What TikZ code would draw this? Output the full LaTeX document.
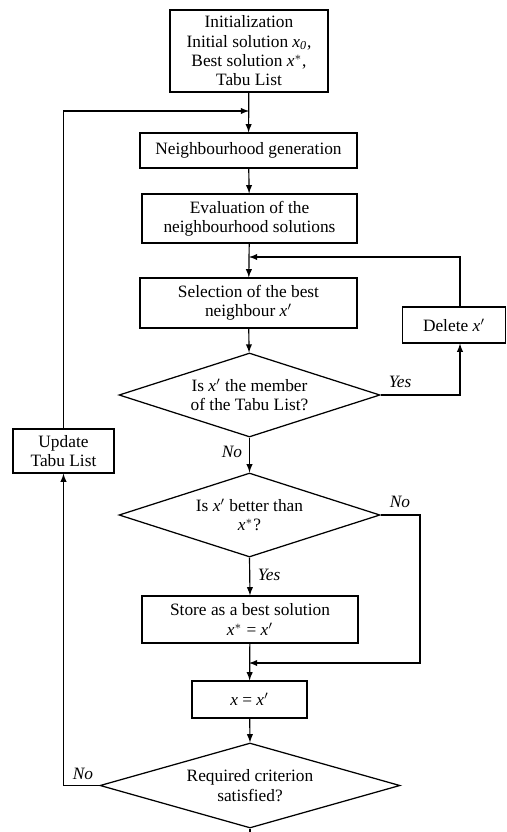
\documentclass[tikz,border=0pt]{standalone}
\usepackage{fontspec}
\setmainfont{Liberation Serif}
\usepackage{tikz}
\usetikzlibrary{shapes.geometric,% diamond nodes for the tests
arrows}%                            latex arrow tip
\tikzset{every node/.style={font=\fontsize{10.4}{11.6}\selectfont},
  procbox/.style={draw, line width=0.75pt, align=center, inner sep=1pt},
  decision/.style={diamond, draw, line width=0.75pt, align=center, inner sep=0pt, aspect=3.2},
  flow/.style={line width=0.7pt, -latex},
  answer/.style={font=\fontsize{10.4}{11.6}\selectfont\itshape}}
\newcommand{\xp}{\textit{x}$^{\prime}$}
\newcommand{\xs}{\textit{x}$^{*}$}

\begin{document}
\begin{tikzpicture}[x=0.6pt, y=-0.6pt]
  \useasboundingbox (0,0) rectangle (506,832);
  % boxes and tests
  \node[procbox, minimum width=94.8pt, minimum height=49.2pt] (init) at (249,51)
    {Initialization\\Initial solution \textit{x\textsubscript{0}},\\Best solution \xs,\\Tabu List};
  \node[procbox, minimum width=130.2pt, minimum height=21pt] (neigh) at (248.5,150.5) {Neighbourhood generation};
  \node[procbox, minimum width=129pt, minimum height=29.4pt] (eval) at (249.5,218.5) {Evaluation of the\\neighbourhood solutions};
  \node[procbox, minimum width=130.2pt, minimum height=30pt] (sel) at (248.5,303) {Selection of the best\\neighbour \xp};
  \node[procbox, minimum width=61.8pt, minimum height=21.6pt] (del) at (454,325) {Delete \xp};
  \node[decision, minimum width=156.6pt, minimum height=50.4pt] (tabu) at (249.5,395) {Is \xp{} the member\\of the Tabu List?};
  \node[procbox, minimum width=60.6pt, minimum height=26.4pt] (upd) at (63.5,451) {Update\\Tabu List};
  \node[decision, minimum width=156.6pt, minimum height=50.4pt] (better) at (249.5,515) {Is \xp{} better than\\\xs?};
  \node[procbox, minimum width=129.6pt, minimum height=28.2pt] (store) at (250,619.5) {Store as a best solution\\\xs{} = \xp};
  \node[procbox, minimum width=69pt, minimum height=22.2pt] (move) at (249.5,699.5) {\textit{x} = \xp};
  \node[decision, aspect=3.5, minimum width=180pt, minimum height=51pt] (stop) at (250,785.5) {Required criterion\\satisfied?};
  % junctions on the main line
  \coordinate (joinA) at (249,111);
  \coordinate (joinB) at (249,257);
  \coordinate (joinC) at (249,663);
  \coordinate (yesturn) at (460,395);
  \coordinate (noturn) at (420,515);
  \coordinate (exit) at (250,832);
  % connectors
  \draw[flow] (init) -- (neigh);
  \draw[flow] (upd.north) |- (joinA);
  \draw[flow] (neigh) -- (eval);
  \draw[flow] (eval) -- (sel);
  \draw[flow] (del.north -| yesturn) |- (joinB);
  \draw[flow] (sel) -- (tabu);
  \draw[flow] (tabu.east) -- (yesturn) -- (yesturn |- del.south);
  \draw[flow] (tabu.south) -- (better.north);
  \draw[flow] (better.east) -- (noturn) |- (joinC);
  \draw[flow] (better.south) -- (store.north);
  \draw[flow] (store) -- (move);
  \draw[flow] (move) -- (stop.north);
  \draw[flow] (stop.west) -| (upd.south);
  \draw[line width=0.7pt] (stop.south) -- (exit);
  % answers
  \node[answer] (yes1) at (400,382) {Yes};
  \node[answer] (no1) at (232,452) {No};
  \node[answer] (no2) at (400,502) {No};
  \node[answer] (yes2) at (269,575) {Yes};
  \node[answer] (no3) at (83,774) {No};
\end{tikzpicture}
\end{document}
